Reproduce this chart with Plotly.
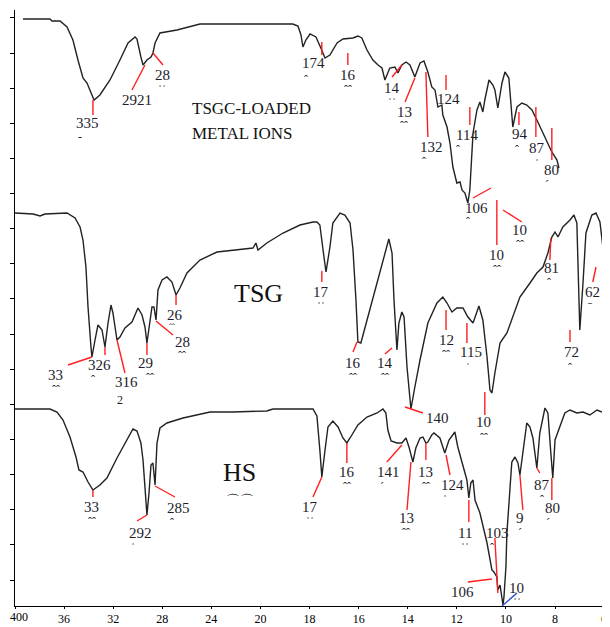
import plotly.graph_objects as go

# ---------------- data (wavenumber cm-1, transmittance in arbitrary stacked units) ----------------
tsgc_wn = [3935,3715,3699,3633,3576,3528,3487,3446,3413,3356,
           3308,3226,3145,3079,3022,3006,2974,2957,2925,2892,
           2876,2859,2819,2680,2493,2224,1974,1868,1847,1835,
           1827,1815,1798,1774,1754,1737,1717,1688,1664,1623,
           1603,1587,1566,1542,1521,1505,1493,1473,1452,1440,
           1424,1407,1391,1371,1350,1334,1318,1302,1289,1277,
           1261,1257,1240,1228,1216,1200,1187,1179,1167,1159,
           1155,1147,1139,1134,1118,1106,1094,1086,1069,1053,
           1045,1033,1016,1004,988,972,955,935,915,894,
           870,841,813,792,784]
tsgc_t = [587,587,585,585,579,566,546,528,523,506,
          511,526,546,563,569,567,549,541,546,549,
          553,563,573,576,582,582,582,582,580,571,
          559,566,572,569,558,548,551,563,567,568,
          570,568,556,546,541,538,526,538,539,533,
          541,544,541,529,543,545,534,519,516,499,
          501,491,479,463,439,423,424,416,413,406,
          403,416,446,473,496,504,494,506,526,521,
          516,498,523,534,528,479,499,503,501,496,
          484,468,454,446,438]

tsg_wn = [4000,3853,3796,3756,3576,3511,3470,3446,3422,3405,
          3381,3373,3348,3324,3291,3267,3242,3218,3202,3169,
          3145,3104,3047,2998,2965,2941,2925,2908,2884,2868,
          2851,2835,2802,2762,2721,2688,2656,2599,2493,2354,
          2224,2110,2061,2037,2020,1974,1908,1839,1786,1770,
          1758,1745,1733,1717,1705,1676,1656,1635,1623,1611,
          1603,1591,1582,1554,1513,1489,1477,1464,1456,1444,
          1436,1424,1415,1403,1387,1371,1350,1318,1281,1257,
          1240,1220,1200,1175,1155,1134,1118,1110,1094,1077,
          1065,1057,1045,1024,996,972,943,902,874,849,
          829,813,800,788,768,739,723,711,707,699,
          686,674,650,633,617,609,601,593,580]
tsg_t = [393,392,390,392,393,388,379,366,339,299,
         259,249,266,281,276,259,283,301,293,266,
         269,278,284,298,291,279,263,279,299,299,
         286,316,326,329,324,311,318,333,346,354,
         356,357,358,363,356,363,373,381,384,384,
         381,356,334,359,383,393,391,383,356,306,
         264,263,271,296,333,356,367,353,306,256,
         283,294,289,239,197,219,246,283,303,309,
         303,294,298,298,289,283,293,300,286,249,
         216,213,233,263,273,289,309,323,333,339,
         353,369,374,369,379,386,391,383,339,276,
         323,373,391,393,384,366,351,366,392]

hs_wn = [4000,3715,3658,3609,3552,3503,3479,3446,3405,3365,
         3308,3251,3169,3088,3039,3006,2974,2957,2933,2925,
         2908,2892,2876,2859,2843,2819,2762,2631,2411,2224,
         1974,1949,1786,1770,1758,1750,1737,1725,1705,1684,
         1664,1648,1635,1603,1566,1525,1501,1489,1481,1468,
         1444,1424,1407,1395,1379,1367,1350,1338,1326,1318,
         1302,1293,1269,1249,1232,1208,1196,1175,1159,1151,
         1143,1134,1126,1106,1077,1057,1049,1037,1033,1024,
         1016,1012,1008,1000,996,988,976,963,951,943,
         931,915,902,890,874,862,841,829,817,809,
         800,780,760,739,711,686,658,629,609]
hs_t = [197,197,194,186,169,149,136,134,124,116,
        121,128,148,166,177,175,163,146,106,91,
        113,141,143,121,163,178,183,188,194,194,
        195,197,197,190,156,129,156,179,185,179,
        168,163,168,181,189,193,197,193,176,165,
        163,163,168,159,144,158,168,169,163,164,
        171,173,168,153,166,174,159,139,126,108,
        123,126,106,93,63,36,34,29,16,21,
        9,1,9,39,73,106,144,149,143,131,
        156,183,179,168,138,173,198,193,153,128,
        166,179,193,196,193,194,191,196,194]

tick_wn = [4000, 3600, 3200, 2800, 2400, 2000, 1800, 1600, 1400, 1200, 1000, 800, 600]
tick_text = ["400", "36", "32", "28", "24", "20", "18", "16", "14", "12", "10", "8", "6"]

# peak labels: text, label (wn, t), leader from (wn1, t1) to (wn2, t2)
peak_labels = [
    # TSGC-loaded metal ions
    ("335", 3413, 483, 3365, 506, 3365, 491),
    ("2921", 3006, 506, 2941, 541, 3047, 516),
    ("28", 2802, 531, 2876, 553, 2794, 541),
    ("174", 1782, 543, 1750, 564, 1750, 551),
    ("16", 1644, 531, 1644, 553, 1644, 541),
    ("14", 1464, 518, 1464, 529, 1424, 541),
    ("13", 1415, 494, 1411, 504, 1371, 528),
    ("132", 1302, 459, 1326, 534, 1318, 469),
    ("124", 1232, 507, 1244, 531, 1244, 516),
    ("114", 1159, 471, 1147, 499, 1147, 481),
    ("94", 943, 472, 947, 494, 947, 481),
    ("87", 874, 458, 878, 499, 878, 469),
    ("80", 813, 436, 813, 478, 813, 446),
    ("106", 1118, 398, 1134, 408, 1061, 418),
    ("10", 1037, 351, 1037, 406, 1037, 361),
    ("10", 943, 376, 1012, 396, 935, 384),
    # TSG
    ("33", 3666, 231, 3568, 241, 3373, 249),
    ("326", 3308, 241, 3267, 259, 3267, 251),
    ("316", 3088, 224, 3169, 266, 3104, 233),
    ("29", 2933, 243, 2925, 263, 2925, 251),
    ("28", 2639, 264, 2851, 285, 2713, 271),
    ("26", 2696, 291, 2688, 311, 2688, 301),
    ("17", 1754, 314, 1750, 335, 1750, 324),
    ("16", 1623, 243, 1607, 264, 1623, 254),
    ("14", 1493, 243, 1493, 252, 1464, 258),
    ("140", 1277, 188, 1411, 199, 1338, 193),
    ("12", 1244, 266, 1244, 296, 1244, 276),
    ("115", 1143, 254, 1159, 283, 1159, 263),
    ("10", 1090, 184, 1086, 214, 1086, 191),
    ("81", 813, 338, 817, 368, 821, 346),
    ("72", 731, 254, 739, 276, 739, 264),
    ("62", 646, 314, 633, 339, 646, 324),
    # HS
    ("33", 3373, 99, 3365, 116, 3365, 109),
    ("292", 2974, 73, 2925, 91, 3006, 85),
    ("285", 2664, 98, 2859, 120, 2697, 109),
    ("17", 1798, 99, 1750, 129, 1786, 109),
    ("16", 1648, 134, 1648, 163, 1648, 143),
    ("141", 1477, 134, 1424, 161, 1485, 144),
    ("13", 1407, 88, 1387, 144, 1403, 96),
    ("13", 1326, 134, 1326, 163, 1326, 146),
    ("124", 1216, 121, 1244, 151, 1228, 131),
    ("11", 1167, 73, 1151, 106, 1151, 84),
    ("103", 1033, 73, 1045, 68, 1033, 13),
    ("106", 1175, 14, 1155, 24, 1057, 27),
    ("9", 943, 88, 943, 131, 931, 96),
    ("87", 853, 121, 874, 138, 862, 133),
    ("80", 809, 98, 813, 128, 813, 106),
]
blue_label = ("10", 955, 18, 1016, 0, 955, 13)

# clipped second lines of the labels (only their tops are visible): glyph, wn, t, size
fragments = [
    ("-", 3470, 469, 12), ("ˈˈ", 2802, 516, 12), ("ˆ", 1815, 526, 12), ("ˆˆ", 1644, 516, 12),
    ("ˈˈ", 1464, 503, 12), ("ˆˆ", 1415, 480, 12), ("ˆ", 1334, 444, 12), ("ˆ", 1196, 456, 12),
    ("ˆ", 955, 456, 12), ("ˈ", 874, 442, 12), ("ˊ", 833, 421, 12), ("ˆ", 1155, 384, 12),
    ("ˆˆ", 1037, 336, 12), ("ˆˆ", 943, 361, 12),
    ("ˆˆ", 3666, 216, 12), ("ˆ", 3365, 226, 12), ("2", 3145, 206, 12), ("ˆˆ", 2900, 228, 12),
    ("ˆˆ", 2639, 250, 12), ("ˆˆ", 2720, 279, 9), ("ˈˈ", 1754, 299, 12), ("ˆˆ", 1623, 228, 12),
    ("ˆˆ", 1493, 228, 12), ("ˆˆ", 1244, 251, 12), ("ˈ", 1155, 238, 12), ("ˆˆ", 1090, 168, 12),
    ("ˆ", 825, 323, 12), ("ˆ", 739, 238, 12), ("ˉ", 658, 299, 12),
    ("ˆˆ", 3373, 84, 12), ("ˈ", 3039, 58, 12), ("ˆ", 2721, 83, 12), ("ˈˈ", 1798, 84, 12),
    ("ˆˆ", 1648, 119, 12), ("ˊ", 1505, 119, 12), ("ˆˆ", 1407, 73, 12), ("ˆˆ", 1326, 119, 12),
    ("ˈ", 1249, 106, 12), ("ˈˈ", 1167, 58, 12), ("ˆ", 1057, 58, 12), ("ˈˈ", 955, 3, 12),
    ("ˊ", 943, 73, 12), ("ˆ", 853, 106, 12), ("ˊ", 829, 83, 12),
]

titles = [("TSGC-LOADED", 2574, 498, "left", 17), ("METAL IONS", 2574, 473, "left", 17),
          ("TSG", 2020, 313, "center", 26), ("HS", 2167, 134, "center", 26)]


def to_u(w):
    # chart x scale: 400 cm-1 per division above 2000, 200 cm-1 per division below
    return (4000 - w) / 400 if w >= 2000 else 5 + (2000 - w) / 200


SERIF = "Liberation Serif, Times New Roman, serif"
TXT = "#1d1d2b"

fig = go.Figure()
for wn, t in [(tsgc_wn, tsgc_t), (tsg_wn, tsg_t), (hs_wn, hs_t)]:
    fig.add_trace(go.Scatter(x=[to_u(w) for w in wn], y=t, mode="lines",
                             line=dict(color="#222222", width=1.4),
                             hoverinfo="skip", showlegend=False))

lx, ly = [], []
for _, _, _, w1, t1, w2, t2 in peak_labels:
    lx += [to_u(w1), to_u(w2), None]
    ly += [t1, t2, None]
fig.add_trace(go.Scatter(x=lx, y=ly, mode="lines", line=dict(color="#ff1f1f", width=1.4),
                         hoverinfo="skip", showlegend=False))
_, _, _, bw1, bt1, bw2, bt2 = blue_label
fig.add_trace(go.Scatter(x=[to_u(bw1), to_u(bw2)], y=[bt1, bt2], mode="lines",
                         line=dict(color="#2a4bd8", width=1.4),
                         hoverinfo="skip", showlegend=False))

annotations = []
for text, w, t, *_ in peak_labels + [blue_label]:
    annotations.append(dict(x=to_u(w), y=t, text=text, showarrow=False,
                            xanchor="center", yanchor="middle",
                            font=dict(family=SERIF, size=15, color=TXT)))
for g, w, t, sz in fragments:
    annotations.append(dict(x=to_u(w), y=t, text=g, showarrow=False,
                            xanchor="center", yanchor="middle",
                            font=dict(family=SERIF, size=sz, color=TXT)))
for text, w, t, anc, sz in titles:
    annotations.append(dict(x=to_u(w), y=t, text=text, showarrow=False,
                            xanchor=anc, yanchor="middle",
                            font=dict(family=SERIF, size=sz, color="#111111")))
annotations.append(dict(x=to_u(2167), y=106, text="⌒⌒", showarrow=False,
                        xanchor="center", yanchor="middle",
                        font=dict(family="DejaVu Sans", size=14, color="#111111")))
# first tick label sits flush with the left edge of the chart
annotations.append(dict(x=to_u(tick_wn[0]), xref="x", xanchor="left", xshift=-7,
                        y=0, yref="paper", yanchor="top", yshift=-2,
                        text=tick_text[0], showarrow=False,
                        font=dict(family=SERIF, size=12, color="black")))

axis_text = [""] + tick_text[1:]

# the page body adds an 8 px offset, so the figure is 8 px smaller than the window
fig.update_layout(
    width=602, height=619,
    margin=dict(l=7, r=0, t=2, b=21),
    paper_bgcolor="white", plot_bgcolor="white",
    annotations=annotations,
    xaxis=dict(range=[0, 12.12], tickvals=[to_u(w) for w in tick_wn], ticktext=axis_text,
               ticks="outside", ticklen=2, tickcolor="black", showline=True,
               linecolor="black", linewidth=1, showgrid=False, zeroline=False,
               automargin=False, ticklabeloverflow="allow",
               tickfont=dict(family=SERIF, size=12, color="black")),
    yaxis=dict(range=[0, 596], tickvals=[26 + 35.13 * k for k in range(17)],
               showticklabels=False, ticks="outside", ticklen=4, tickcolor="black",
               showline=True, linecolor="black", linewidth=1, showgrid=False,
               zeroline=False, automargin=False),
)

fig.write_html("out.html")
